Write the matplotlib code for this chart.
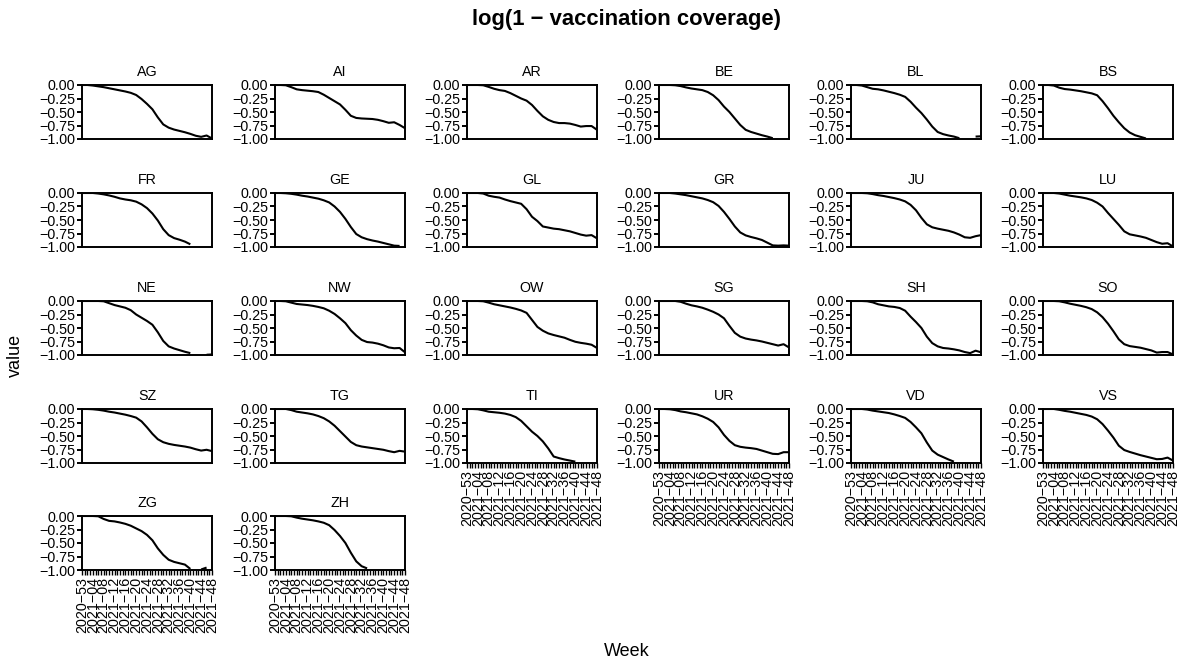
import numpy as np
import matplotlib.pyplot as plt

plt.rcParams['font.family'] = ['Liberation Sans', 'DejaVu Sans']

# weeks on the x axis (2020-53 .. 2021-48); values read every second week
weeks = ['2020\u221253'] + ['2021\u2212%02d' % k for k in range(1, 49)]
sample_idx = list(range(0, 49, 2))
nan = np.nan

AG = [0, 0, -0.01, -0.025, -0.04, -0.06, -0.08, -0.10, -0.12, -0.145, -0.185, -0.26, -0.35,
      -0.45, -0.60, -0.73, -0.79, -0.825, -0.85, -0.875, -0.905, -0.94, -0.96, -0.935, -0.99]
AI = [0, 0, -0.005, -0.04, -0.08, -0.095, -0.105, -0.115, -0.13, -0.18, -0.24, -0.30, -0.36,
      -0.46, -0.57, -0.61, -0.62, -0.625, -0.63, -0.645, -0.67, -0.70, -0.69, -0.74, -0.80]
AR = [0, 0, 0, -0.005, -0.035, -0.07, -0.095, -0.11, -0.15, -0.20, -0.25, -0.29, -0.37,
      -0.48, -0.58, -0.645, -0.685, -0.705, -0.705, -0.715, -0.74, -0.77, -0.76, -0.76, -0.83]
BE = [0, 0, 0, -0.005, -0.02, -0.045, -0.065, -0.08, -0.095, -0.13, -0.19, -0.28, -0.40,
      -0.50, -0.62, -0.74, -0.83, -0.87, -0.90, -0.93, -0.955, -0.985, nan, nan, nan]
BL = [0, 0, -0.01, -0.04, -0.07, -0.08, -0.10, -0.125, -0.15, -0.18, -0.22, -0.31, -0.42,
      -0.52, -0.64, -0.77, -0.87, -0.91, -0.935, -0.955, -0.985, nan, nan, -0.955, -0.95]
BS = [0, 0, -0.01, -0.05, -0.075, -0.085, -0.10, -0.115, -0.135, -0.155, -0.19, -0.30, -0.43,
      -0.57, -0.69, -0.80, -0.88, -0.93, -0.96, -0.99, nan, nan, nan, nan, nan]
FR = [0, 0, 0, -0.01, -0.025, -0.045, -0.07, -0.10, -0.12, -0.135, -0.16, -0.21, -0.28,
      -0.38, -0.51, -0.67, -0.78, -0.835, -0.865, -0.90, -0.95, nan, nan, nan, nan]
GE = [0, 0, -0.005, -0.015, -0.03, -0.05, -0.065, -0.085, -0.105, -0.135, -0.175, -0.25, -0.35,
      -0.48, -0.63, -0.76, -0.82, -0.855, -0.88, -0.90, -0.925, -0.95, -0.975, -0.98, nan]
GL = [0, 0, 0, -0.01, -0.05, -0.07, -0.085, -0.12, -0.15, -0.175, -0.20, -0.30, -0.44,
      -0.52, -0.62, -0.64, -0.66, -0.67, -0.69, -0.71, -0.74, -0.77, -0.79, -0.78, -0.84]
GR = [0, 0, 0, -0.01, -0.025, -0.04, -0.06, -0.08, -0.10, -0.13, -0.17, -0.24, -0.35,
      -0.48, -0.62, -0.73, -0.785, -0.815, -0.84, -0.87, -0.92, -0.97, -0.975, -0.97, -0.975]
JU = [0, 0, 0, -0.005, -0.02, -0.04, -0.055, -0.075, -0.095, -0.12, -0.155, -0.22, -0.32,
      -0.46, -0.58, -0.635, -0.66, -0.68, -0.70, -0.73, -0.77, -0.82, -0.83, -0.80, -0.78]
LU = [0, 0, 0, -0.01, -0.03, -0.05, -0.065, -0.08, -0.10, -0.13, -0.18, -0.25, -0.37,
      -0.48, -0.59, -0.71, -0.765, -0.785, -0.805, -0.83, -0.87, -0.91, -0.94, -0.93, -0.99]
NE = [0, 0, 0, 0, -0.005, -0.04, -0.075, -0.10, -0.125, -0.17, -0.25, -0.31, -0.37,
      -0.44, -0.58, -0.74, -0.84, -0.88, -0.91, -0.94, -0.965, nan, nan, -0.995, -0.99]
NW = [0, 0, -0.005, -0.03, -0.055, -0.065, -0.075, -0.09, -0.11, -0.135, -0.18, -0.24, -0.32,
      -0.41, -0.54, -0.64, -0.72, -0.76, -0.77, -0.79, -0.82, -0.86, -0.875, -0.87, -0.95]
OW = [0, 0, 0, -0.005, -0.03, -0.06, -0.08, -0.10, -0.12, -0.145, -0.175, -0.22, -0.35,
      -0.48, -0.55, -0.60, -0.63, -0.655, -0.68, -0.72, -0.755, -0.775, -0.79, -0.81, -0.87]
SG = [0, 0, 0, 0, -0.015, -0.05, -0.08, -0.10, -0.125, -0.16, -0.20, -0.25, -0.32,
      -0.46, -0.59, -0.66, -0.695, -0.715, -0.73, -0.75, -0.775, -0.80, -0.825, -0.80, -0.86]
SH = [0, 0, 0, -0.005, -0.025, -0.06, -0.08, -0.10, -0.11, -0.13, -0.18, -0.29, -0.39,
      -0.50, -0.66, -0.78, -0.84, -0.87, -0.88, -0.895, -0.915, -0.945, -0.965, -0.92, -0.95]
SO = [0, 0, 0, -0.005, -0.025, -0.05, -0.07, -0.09, -0.115, -0.15, -0.21, -0.30, -0.42,
      -0.56, -0.71, -0.80, -0.835, -0.85, -0.865, -0.89, -0.915, -0.955, -0.945, -0.945, -0.99]
SZ = [0, 0, -0.005, -0.015, -0.03, -0.05, -0.065, -0.085, -0.105, -0.13, -0.16, -0.23, -0.34,
      -0.46, -0.56, -0.615, -0.645, -0.665, -0.68, -0.695, -0.715, -0.745, -0.77, -0.755, -0.78]
TG = [0, 0, 0, -0.02, -0.05, -0.065, -0.08, -0.10, -0.13, -0.17, -0.23, -0.31, -0.41,
      -0.51, -0.61, -0.67, -0.695, -0.71, -0.725, -0.74, -0.755, -0.78, -0.80, -0.775, -0.79]
TI = [0, 0, -0.005, -0.025, -0.05, -0.06, -0.07, -0.085, -0.11, -0.15, -0.22, -0.32, -0.42,
      -0.50, -0.60, -0.73, -0.88, -0.91, -0.935, -0.955, -0.975, nan, nan, nan, nan]
UR = [0, 0, -0.005, -0.02, -0.045, -0.06, -0.08, -0.10, -0.135, -0.18, -0.24, -0.34, -0.48,
      -0.59, -0.67, -0.70, -0.715, -0.725, -0.74, -0.77, -0.80, -0.83, -0.835, -0.80, -0.80]
VD = [0, 0, 0, -0.01, -0.03, -0.045, -0.06, -0.075, -0.10, -0.13, -0.165, -0.24, -0.34,
      -0.45, -0.62, -0.77, -0.845, -0.89, -0.935, -0.975, nan, nan, nan, nan, nan]
VS = [0, 0, 0, -0.015, -0.035, -0.05, -0.07, -0.09, -0.11, -0.14, -0.19, -0.28, -0.40,
      -0.53, -0.68, -0.76, -0.795, -0.825, -0.855, -0.88, -0.905, -0.93, -0.925, -0.90, -0.955]
ZG = [0, 0, 0, -0.005, -0.055, -0.09, -0.10, -0.12, -0.145, -0.18, -0.23, -0.28, -0.35,
      -0.45, -0.60, -0.72, -0.81, -0.85, -0.875, -0.90, -0.98, nan, -0.99, -0.955, nan]
ZH = [0, 0, 0, -0.005, -0.03, -0.05, -0.065, -0.08, -0.10, -0.125, -0.17, -0.26, -0.37,
      -0.50, -0.68, -0.84, -0.93, -0.97, nan, nan, nan, nan, nan, nan, nan]

cantons = ['AG', 'AI', 'AR', 'BE', 'BL', 'BS', 'FR', 'GE', 'GL', 'GR', 'JU', 'LU', 'NE',
           'NW', 'OW', 'SG', 'SH', 'SO', 'SZ', 'TG', 'TI', 'UR', 'VD', 'VS', 'ZG', 'ZH']
series = [AG, AI, AR, BE, BL, BS, FR, GE, GL, GR, JU, LU, NE,
          NW, OW, SG, SH, SO, SZ, TG, TI, UR, VD, VS, ZG, ZH]

y_ticks = [0.0, -0.25, -0.5, -0.75, -1.0]
y_labels = ['0.00', '\u22120.25', '\u22120.50', '\u22120.75', '\u22121.00']

W, H = 1187, 664
fig = plt.figure(figsize=(W / 100, H / 100), dpi=100)

col_left = [82, 275, 467, 659, 851, 1043]
row_top = [85, 193, 301, 409, 516]
pw, ph = 130, 54
fs = 10.3

for i, (name, vals) in enumerate(zip(cantons, series)):
    r, c = divmod(i, 6)
    ax = fig.add_axes([col_left[c] / W, 1 - (row_top[r] + ph) / H, pw / W, ph / H])
    ax.plot(sample_idx, vals, color='black', lw=1.5, solid_capstyle='butt')
    ax.set_xlim(0, len(weeks) - 1)
    ax.set_ylim(-1, 0)
    ax.set_yticks(y_ticks)
    ax.set_yticklabels(y_labels)
    for s in ax.spines.values():
        s.set_linewidth(1.4)
    ax.tick_params(axis='y', length=3.5, width=1.4, labelsize=fs, pad=1.5)
    if i >= 20:
        ax.set_xticks(range(len(weeks)))
        ax.set_xticklabels([w if k % 4 == 0 else '' for k, w in enumerate(weeks)],
                           rotation=90)
        ax.tick_params(axis='x', length=3.5, width=1.0, labelsize=fs, pad=1.5)
    else:
        ax.set_xticks([])
    ax.text(0.5, 1 + 13 / ph, name, transform=ax.transAxes, ha='center', va='center',
            fontsize=fs)

fig.text(627 / W, 1 - 20 / H, 'log(1 \u2212 vaccination coverage)', ha='center', va='center',
         fontsize=15.8, fontweight='bold')
fig.text(15 / W, 1 - 355 / H, 'value', rotation=90, ha='center', va='center', fontsize=13)
fig.text(627 / W, 1 - 651 / H, 'Week', ha='center', va='center', fontsize=13)

fig.savefig('out.png', dpi=100)
